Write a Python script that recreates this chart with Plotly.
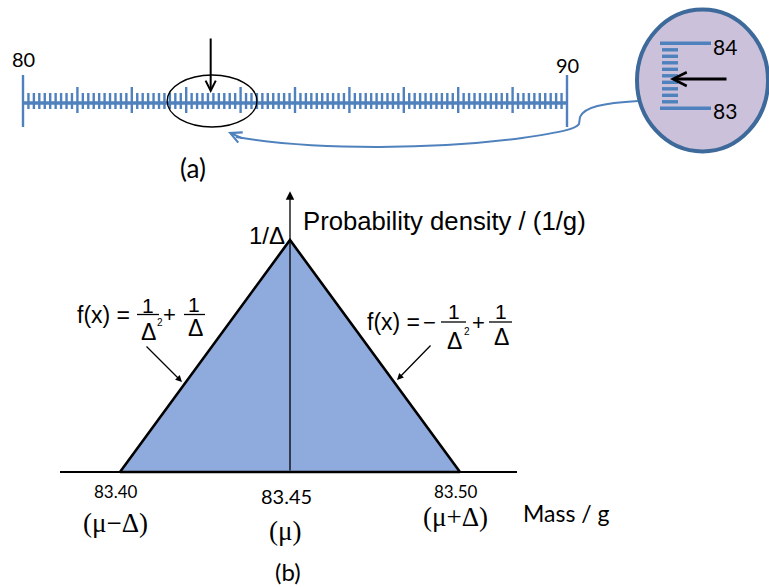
import plotly.graph_objects as go

# ---------------- data ----------------
RULER_START = 80
RULER_END = 90
RULER_SUBDIV = 10          # minor divisions per gram
READING = 83.45            # value indicated on the scale
MAG_LOW = 83               # magnified part of the scale
MAG_HIGH = 84
MU = 83.45                 # mean of the triangular distribution
DELTA = 0.05               # half width
PEAK = 1 / DELTA           # 1/Δ

W, H = 769, 587
BLUE = "#4F81BD"
FILL = "#8FAADC"
SANS = "Liberation Sans, Arial, sans-serif"
CAL = "Lato, Open Sans, sans-serif"
SERIF = "Liberation Serif, Times New Roman, serif"


def axis_range(v_a, px_a, v_b, px_b, px_lo, px_hi):
    """Range of a linear axis given two anchor positions in pixels."""
    k = (v_b - v_a) / (px_b - px_a)
    return [v_a + (px_lo - px_a) * k, v_a + (px_hi - px_a) * k]


fig = go.Figure()

# ---------------- (a) the scale ----------------
ruler_x, ruler_y = [], []
n = (RULER_END - RULER_START) * RULER_SUBDIV
for i in range(n + 1):
    v = RULER_START + i / RULER_SUBDIV
    if i % n == 0:
        top, bot = 75, 127
    elif i % RULER_SUBDIV == 0:
        top, bot = 87, 113
    else:
        top, bot = 93, 109
    ruler_x += [v, v, None]
    ruler_y += [top, bot, None]

fig.add_trace(go.Scatter(x=ruler_x, y=ruler_y, xaxis="x2", yaxis="y", mode="lines",
                         line=dict(color=BLUE, width=2.4), hoverinfo="skip"))
fig.add_trace(go.Scatter(x=[RULER_START, RULER_END], y=[103, 103], xaxis="x2", yaxis="y",
                         mode="lines", line=dict(color=BLUE, width=3.5), hoverinfo="skip"))

# magnified view of the scale
mag_x, mag_y = [], []
for i in range(RULER_SUBDIV + 1):
    v = MAG_LOW + i / RULER_SUBDIV
    if i in (0, RULER_SUBDIV):
        x0, x1 = 660, 711
    else:
        x0, x1 = 662, 678
    mag_x += [x0, x1, None]
    mag_y += [v, v, None]
fig.add_trace(go.Scatter(x=mag_x, y=mag_y, xaxis="x", yaxis="y3", mode="lines",
                         line=dict(color=BLUE, width=3.4), hoverinfo="skip"))

# ---------------- (b) triangular distribution ----------------
tri_x = [MU - DELTA, MU, MU + DELTA, MU - DELTA]
tri_y = [0, PEAK, 0, 0]
fig.add_trace(go.Scatter(x=tri_x, y=tri_y, xaxis="x3", yaxis="y2", mode="lines",
                         fill="toself", fillcolor=FILL,
                         line=dict(color="black", width=2.6), hoverinfo="skip"))

shapes = [
    # magnifier lens
    dict(type="circle", xref="x", yref="y", x0=637, x1=768, y0=9.5, y1=151.5,
         fillcolor="#CCC1DA", line=dict(color="#3D6A9B", width=4), layer="below"),
    # ring round the reading on the scale
    dict(type="circle", xref="x2", yref="y", x0=READING - 0.8, x1=READING + 0.85,
         y0=75, y1=127, line=dict(color="black", width=1.3)),
    # connector from the lens back to the ring
    dict(type="path", xref="x", yref="y",
         path="M 638,101 C 603,103 584,107 580,117 L 579,124 C 576,129 562,132 522,138 "
              "C 440,149 320,151 236,137",
         line=dict(color=BLUE, width=2)),
    # fraction bars of the left formula
    dict(type="line", xref="x", yref="y", x0=137, x1=159, y0=314.5, y1=314.5,
         line=dict(color="black", width=1.3)),
    dict(type="line", xref="x", yref="y", x0=184, x1=205, y0=314.5, y1=314.5,
         line=dict(color="black", width=1.3)),
    # fraction bars of the right formula
    dict(type="line", xref="x", yref="y", x0=441, x1=466, y0=322, y1=322,
         line=dict(color="black", width=1.3)),
    dict(type="line", xref="x", yref="y", x0=489, x1=512, y0=322, y1=322,
         line=dict(color="black", width=1.3)),
]

ann = []


def txt(x, y, text, size, family=SANS, xref="x", yref="y", xanchor="center", **kw):
    ann.append(dict(x=x, y=y, xref=xref, yref=yref, text=text, showarrow=False,
                    xanchor=xanchor, yanchor="middle",
                    font=dict(size=size, family=family, color="black"), **kw))


# scale labels
txt(RULER_START, 59, f"{RULER_START}", 20, CAL, xref="x2")
txt(RULER_END, 65, f"{RULER_END}", 20, CAL, xref="x2")
txt(193, 168, "(a)", 26, CAL)
txt(725, MAG_HIGH, f"{MAG_HIGH}", 21, CAL, yref="y3", yshift=-3)
txt(725, MAG_LOW, f"{MAG_LOW}", 21, CAL, yref="y3", yshift=-2)

# pointer on the scale
ann.append(dict(x=READING, y=93, xref="x2", yref="y", ax=READING, ay=37,
                axref="x2", ayref="y", showarrow=True, arrowhead=5, arrowsize=1,
                arrowwidth=2, arrowcolor="black", text=""))
# pointer in the lens
ann.append(dict(x=670, y=READING, xref="x", yref="y3", ax=728, ay=READING,
                axref="x", ayref="y3", showarrow=True, arrowhead=5, arrowsize=0.9,
                arrowwidth=3, arrowcolor="black", text=""))
# head of the connector
ann.append(dict(x=228, y=132, xref="x", yref="y", ax=16, ay=7, showarrow=True,
                arrowhead=5, arrowsize=1.1, arrowwidth=2, arrowcolor=BLUE, text=""))

# density axis with arrow
ann.append(dict(x=MU, y=24.2, xref="x3", yref="y2", ax=MU, ay=0, axref="x3",
                ayref="y2", showarrow=True, arrowhead=2, arrowsize=1.3,
                arrowwidth=1.3, arrowcolor="black", text=""))
txt(MU, PEAK, "1/Δ", 24, xref="x3", yref="y2", xanchor="right", xshift=-3, yshift=5)
txt(301, 221, "Probability density / (1/g)", 25.7, xanchor="left")

# mass axis labels
for v, lab, size, ty, ly in [(MU - DELTA, "(μ−Δ)", 17, 491, 523),
                             (MU, "(μ)", 20, 496, 531),
                             (MU + DELTA, "(μ+Δ)", 17, 491, 517)]:
    txt(v, ty, f"{v:.2f}", size, CAL, xref="x3", xshift=-4)
    txt(v, ly, lab, 27, SERIF, xref="x3", xshift=-5)
txt(566, 513, "Mass / g", 23, CAL)
txt(288, 571, "(b)", 24, CAL)

# left formula: rising edge
txt(103, 315, "f(x) =", 23)
txt(148, 305, "1", 21)
txt(148, 332, "Δ", 23)
txt(160, 322, "2", 10)
txt(169, 314, "+", 22)
txt(194, 304, "1", 21)
txt(195, 328, "Δ", 23)
ann.append(dict(x=182, y=382, xref="x", yref="y", ax=145, ay=345, axref="x", ayref="y",
                showarrow=True, arrowhead=2, arrowsize=1, arrowwidth=1.3,
                arrowcolor="black", text=""))

# right formula: falling edge
txt(393, 322, "f(x) =", 23)
txt(429, 322, "−", 22)
txt(454, 311, "1", 21)
txt(454, 341, "Δ", 23)
txt(467, 331, "2", 10)
txt(478, 322, "+", 22)
txt(501, 311, "1", 21)
txt(501, 337, "Δ", 23)
ann.append(dict(x=397, y=380, xref="x", yref="y", ax=432, ay=344, axref="x", ayref="y",
                showarrow=True, arrowhead=2, arrowsize=1, arrowwidth=1.3,
                arrowcolor="black", text=""))

hidden = dict(showgrid=False, zeroline=False, showticklabels=False, ticks="",
              showline=False, fixedrange=True)

fig.update_layout(
    width=W, height=H, autosize=False,
    margin=dict(l=0, r=0, t=0, b=0, pad=0),
    paper_bgcolor="white", plot_bgcolor="rgba(0,0,0,0)",
    showlegend=False,
    xaxis=dict(range=[0, W], domain=[0, 1], anchor="y", **hidden),
    yaxis=dict(range=[H, 0], domain=[0, 1], anchor="x", **hidden),
    xaxis2=dict(range=axis_range(RULER_START, 23, RULER_END, 567, 0, W),
                overlaying="x", anchor="y", **hidden),
    yaxis3=dict(range=axis_range(MAG_LOW, 108.3, MAG_HIGH, 43.3, H, 0),
                overlaying="y", anchor="x", **hidden),
    xaxis3=dict(range=axis_range(MU - DELTA, 120, MU + DELTA, 460, 60, 517),
                domain=[60 / W, 517 / W], anchor="y2", **hidden),
    yaxis2=dict(range=axis_range(0, 472, PEAK, 240, H, 0), domain=[0, 1], anchor="x3",
                showgrid=False, showticklabels=False, ticks="", showline=False,
                fixedrange=True, zeroline=True, zerolinecolor="black", zerolinewidth=1.5),
    shapes=shapes,
    annotations=ann,
)

fig.write_html("out.html")
